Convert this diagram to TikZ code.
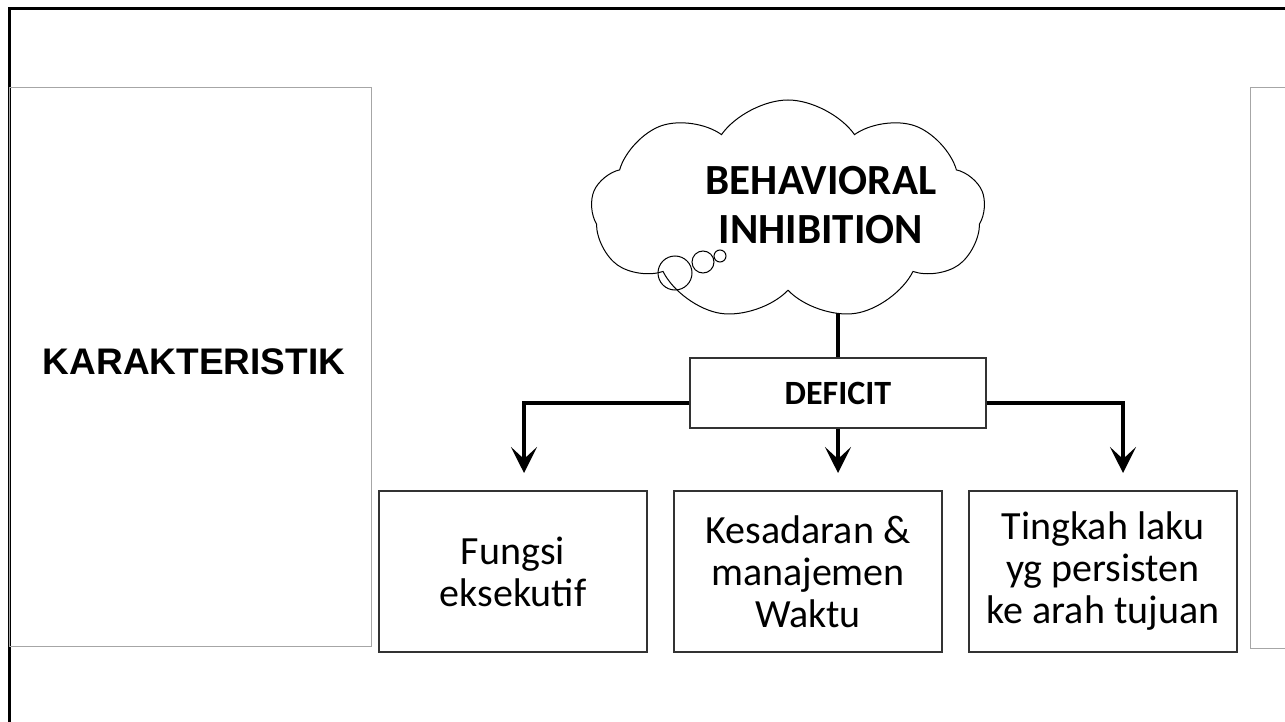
\documentclass[tikz,border=0pt]{standalone}
\usepackage{fontspec}
\setmainfont{Carlito}
\newfontfamily\arialfont{Liberation Sans}
\usetikzlibrary{shapes.symbols,arrows.meta,backgrounds}

\begin{document}
\begin{tikzpicture}[x=0.5pt,y=-0.5pt,
    box/.style={draw=black!80, line width=0.7pt, minimum width=134pt,
      minimum height=80.5pt, align=center,
      font=\fontsize{20}{21}\selectfont},
    conn/.style={line width=2.4pt},
    arr/.style={conn, -{Stealth[length=13pt,width=13pt,inset=6pt]}},
    panel/.style={draw=black!35, line width=0.5pt}]
  \useasboundingbox (0,0) rectangle (1285,722);
  \clip (0,0) rectangle (1285,722);

  % Slide frame and side panels
  \draw[line width=1.5pt] (9,730) -- (9,9) -- (1295,9);
  \draw[panel] (9,88) rectangle (371,646);
  \draw[panel] (1295,88) -| (1250,648) -- (1295,648);
  \node[font=\arialfont\bfseries\fontsize{18.5}{20}\selectfont] (kar) at (194,362) {KARAKTERISTIK};

  % Cloud
  \node[cloud, cloud puffs=9, cloud puff arc=110, aspect=2.1, draw,
    fill=white, line width=0.5pt, minimum width=197pt, minimum height=110pt] (cl) at (788,210) {};
  \draw[line width=0.5pt] (675,273) circle[radius=8.5pt];
  \draw[line width=0.5pt] (703,262) circle[radius=5.5pt];
  \draw[line width=0.5pt] (720,256) circle[radius=3pt];
  \node[align=center, font=\bfseries\fontsize{21.5}{24.5}\selectfont] (bi) at (821,205) {BEHAVIORAL\\INHIBITION};

  % Deficit and targets
  \node[draw=black!80, line width=0.7pt, minimum width=148pt, minimum height=35pt,
    font=\bfseries\fontsize{17}{20}\selectfont] (def) at (838,393) {DEFICIT};
  \node[box] (a) at (513,571.5) {Fungsi\\eksekutif};
  \node[box] (b) at (808,571.5) {Kesadaran \&\\manajemen\\Waktu};
  \node[box] (c) at (1103,571.5) {Tingkah laku\\yg persisten\\ke arah tujuan};

  \coordinate (ta) at (524,473);
  \coordinate (tb) at (838,473);
  \coordinate (tc) at (1123,473);

  \begin{scope}[on background layer]
    \draw[conn] (def.north) -- (def.north |- cl.center);
  \end{scope}
  \draw[arr] ([yshift=-5pt]def.west) -| (ta);
  \draw[arr] (def.south) -- (tb);
  \draw[arr] ([yshift=-5pt]def.east) -| (tc);
\end{tikzpicture}
\end{document}
